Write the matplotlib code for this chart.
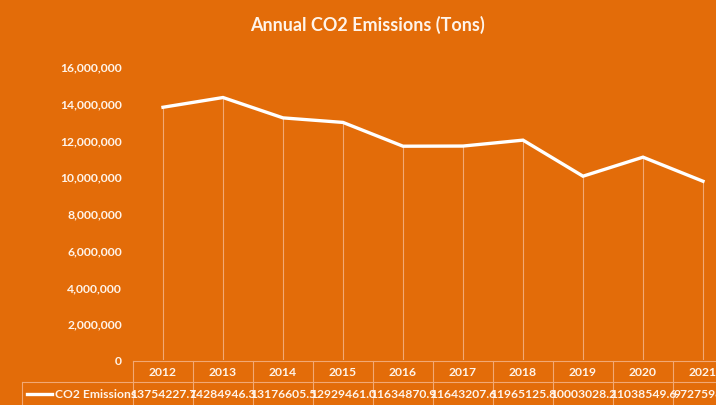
import numpy as np
import matplotlib
matplotlib.use("Agg")
import matplotlib.pyplot as plt
from matplotlib.transforms import blended_transform_factory

years = ["2012", "2013", "2014", "2015", "2016", "2017", "2018", "2019", "2020", "2021"]
emissions = [13754227.7, 14284946.3, 13176605.5, 12929461.0, 11634870.9,
             11643207.6, 11965125.8, 10003028.2, 11038549.6, 9727598.4]
yticks = [0, 2000000, 4000000, 6000000, 8000000, 10000000, 12000000, 14000000, 16000000]

bg = "#E36C09"
txt = "#FFF4EA"
grid = "#F2A874"

plt.rcParams["font.family"] = ["Lato", "DejaVu Sans"]

W, H = 716, 406
fig = plt.figure(figsize=(W / 100, H / 100), dpi=100, facecolor=bg)

# overlay in pixel coords for title and table rows
px = fig.add_axes([0, 0, 1, 1], facecolor="none")
px.set_xlim(0, W)
px.set_ylim(H, 0)
px.axis("off")

# plot area: x 133..733 px, y 361 (0) .. 67 (16M)
ax = fig.add_axes([133 / W, (H - 361) / H, 600 / W, 294 / H], facecolor="none")
x = np.arange(len(years))
ax.set_xlim(-0.5, len(years) - 0.5)
ax.set_ylim(0, 16000000)
ax.vlines(x, 0, emissions, color=grid, lw=0.8)
ax.plot(x, emissions, color="white", lw=2.4, solid_joinstyle="miter", zorder=3)
ax.set_xticks([])
ax.set_yticks(yticks)
ax.set_yticklabels([f"{v:,}" for v in yticks], color=txt, fontsize=8.7, fontweight="bold")
ax.tick_params(axis="y", length=0, pad=8)
for s in ax.spines.values():
    s.set_visible(False)

fig.text(367 / W, 1 - 25 / H, "Annual CO2 Emissions (Tons)", ha="center", va="center",
         color=txt, fontsize=13, fontweight="bold")

# data table under the chart
tr = blended_transform_factory(ax.transData, px.transData)
top, mid, bot = 361.5, 383, 420
edges = np.arange(len(years) + 1) - 0.5
px.plot([-0.5, len(years) - 0.5], [top, top], color=grid, lw=0.8, transform=tr)
px.plot([22, W], [mid, mid], color=grid, lw=0.8)
px.plot([22, 22], [mid, bot], color=grid, lw=0.8)
for e in edges:
    px.plot([e, e], [top, bot], color=grid, lw=0.8, transform=tr)
for i, (yr, v) in enumerate(zip(years, emissions)):
    px.text(i, 372.5, yr, transform=tr, ha="center", va="center",
            color=txt, fontsize=8.7, fontweight="bold")
    px.text(i, 395, f"{v:.1f}", transform=tr, ha="center", va="center",
            color=txt, fontsize=8.7, fontweight="bold")
px.plot([27, 52], [395, 395], color="white", lw=2.4)
px.text(55, 395, "CO2 Emissions", ha="left", va="center",
        color=txt, fontsize=8.7, fontweight="bold")

fig.savefig("out.png", dpi=100, facecolor=bg)
